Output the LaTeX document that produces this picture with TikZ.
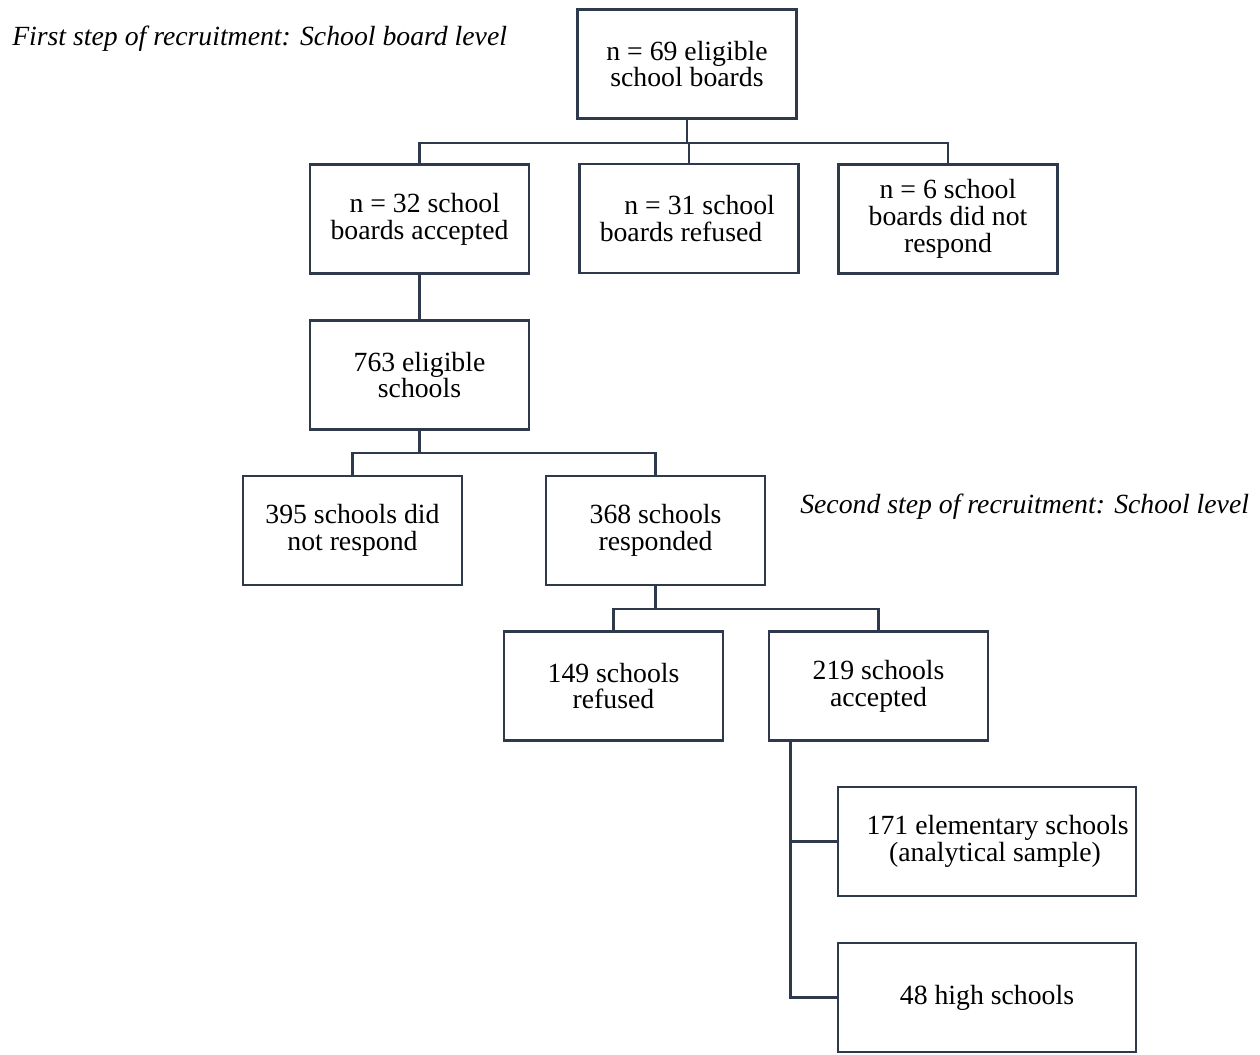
\documentclass[tikz,border=0pt]{standalone}
\usepackage{fontspec}
\setmainfont{Liberation Serif}
\usetikzlibrary{calc}
\definecolor{linecol}{HTML}{2E3A4C}
\begin{document}
\begin{tikzpicture}[x=0.75pt,y=-0.75pt,
  txt/.style={font=\fontsize{20.8}{20}\selectfont},
  box/.style={txt, draw=linecol, line width=2pt, align=center,
    minimum width=164.25pt, minimum height=81.75pt, inner sep=0pt},
  widebox/.style={box, minimum width=223.5pt},
  link/.style={draw=linecol, line width=2pt},
  steplabel/.style={font=\fontsize{20.8}{20}\selectfont\itshape, anchor=west, inner sep=0pt}]
\useasboundingbox (0,0) rectangle (1260,1055);

% recruitment levels
\node[steplabel] (lvl1) at (12,39) {First step of recruitment: School board level};
\node[steplabel] (lvl2) at (800,507) {Second step of recruitment: School level};

% school board level
\node[box] (top) at (687,64) {n = 69 eligible\\school boards};
\node[box] (acc) at (419.5,219) {\hspace*{8pt}n = 32 school\\boards accepted};
\node[box] (ref) at (689,218.5) {\hspace*{16pt}n = 31 school\\boards refused\hspace*{12pt}};
\node[box] (nor) at (948,219) {n = 6 school\\boards did not\\respond};

% school level
\node[box] (elig) at (419.5,375) {763 eligible\\schools};
\node[box] (s395) at (352.5,530.5) {395 schools did\\not respond};
\node[box] (s368) at (655.5,530.5) {368 schools\\responded};
\node[box] (s149) at (613.5,686) {149 schools\\refused};
\node[box] (s219) at (878.5,686) {219 schools\\accepted};
\node[widebox] (s171) at (987,841.5) {\hspace*{16pt}171 elementary schools\\\hspace*{12pt}(analytical sample)};
\node[widebox] (s48) at (987,997.5) {48 high schools};

% connectors
\coordinate (j1) at (687,143);
\draw[link] (top.south) -- (j1);
\draw[link] (acc.north) |- (j1) -| (nor.north);
\draw[link] (j1 -| ref.north) -- (ref.north);

\draw[link] (acc) -- (elig);

\coordinate (j2) at (419.5,453);
\draw[link] (elig.south) -- (j2);
\draw[link] (s395.north) |- (j2) -| (s368.north);

\coordinate (j3) at (655.5,609);
\draw[link] (s368.south) -- (j3);
\draw[link] (s149.north) |- (j3) -| (s219.north);

\coordinate (t) at ($(s219.south west)+(23,0)$);
\draw[link] (t) |- (s171.west);
\draw[link] (t) |- (s48.west);
\end{tikzpicture}
\end{document}
